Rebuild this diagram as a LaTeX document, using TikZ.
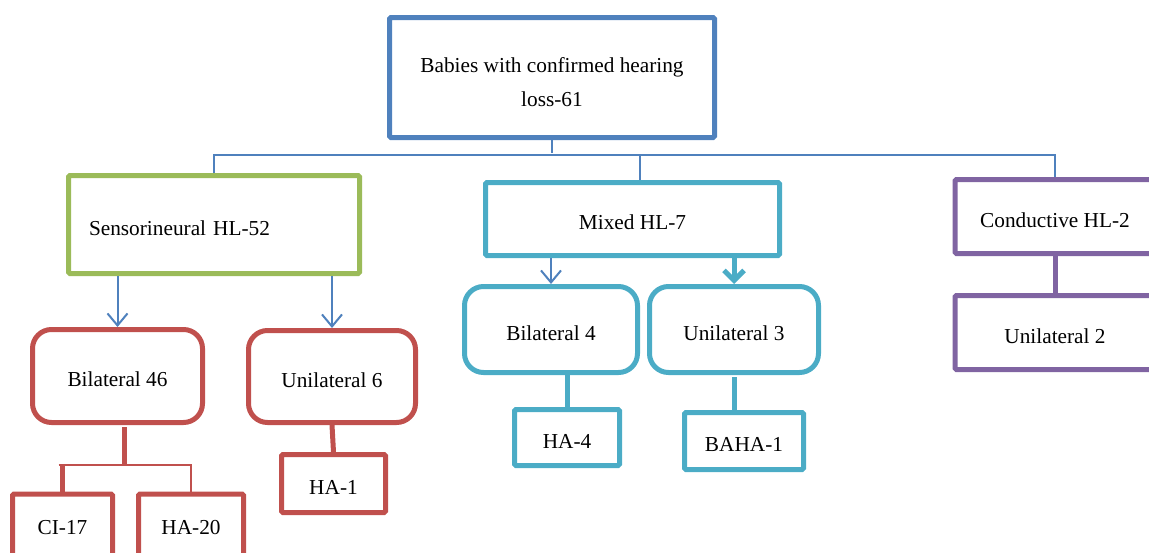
\documentclass[tikz,border=0pt]{standalone}
\usepackage{fontspec}
\setmainfont{Liberation Serif}
\usetikzlibrary{arrows.meta,positioning}
\definecolor{hlblue}{HTML}{4F81BD}
\definecolor{hlgreen}{HTML}{9BBB59}
\definecolor{hlred}{HTML}{C0504D}
\definecolor{hlcyan}{HTML}{4BACC6}
\definecolor{hlpurple}{HTML}{8064A2}
\tikzstyle{box}=[draw, line width=5pt, rounded corners=1.5pt, align=center, inner sep=0pt, text height=21pt, text depth=0pt]
\tikzstyle{roundbox}=[box, rounded corners=19pt]
\tikzstyle{bus}=[draw=hlblue, line width=2pt]
\tikzstyle{arrow}=[bus, -{Straight Barb[length=12pt,width=20pt]}]
\tikzstyle{stem}=[line width=5pt]

\begin{document}
\begin{tikzpicture}[x=1pt,y=-1pt,font=\fontsize{21.3}{34}\selectfont]
        \useasboundingbox (0,0) rectangle (1149,552);
        \node (root) [box, draw=hlblue, minimum width=325, minimum height=120, text height=57pt] at (552,77.5) {Babies with confirmed hearing\\loss-61};
        \node (sens) [box, draw=hlgreen, minimum width=291, minimum height=98, text width=250, inner xsep=20.5, align=left] at (214,224.5) {Sensorineural HL-52};
        \node (mixed) [box, draw=hlcyan, minimum width=294, minimum height=73] at (632.5,219) {Mixed HL-7};
        \node (cond) [box, draw=hlpurple, minimum width=200, minimum height=74] at (1055,216.5) {Conductive HL-2};

        \node (bil46) [roundbox, draw=hlred, minimum width=170, minimum height=93] at (117.5,376) {Bilateral 46};
        \node (uni6) [roundbox, draw=hlred, minimum width=167, minimum height=92] at (332,376.5) {Unilateral 6};
        \node (ci) [box, draw=hlred, minimum width=100, minimum height=70, text height=10pt] at (62.5,529) {CI-17};
        \node (ha20) [box, draw=hlred, minimum width=105, minimum height=70, text height=10pt] at (191,529) {HA-20};
        \node (ha1) [box, draw=hlred, minimum width=104, minimum height=58] at (333.5,483.5) {HA-1};

        \node (bil4) [roundbox, draw=hlcyan, minimum width=173, minimum height=86] at (551,329.5) {Bilateral 4};
        \node (uni3) [roundbox, draw=hlcyan, minimum width=169, minimum height=86] at (734,329.5) {Unilateral 3};
        \node (ha4) [box, draw=hlcyan, minimum width=105, minimum height=56] at (567,437.5) {HA-4};
        \node (baha) [box, draw=hlcyan, minimum width=119, minimum height=57] at (744,441) {BAHA-1};

        \node (uni2) [box, draw=hlpurple, minimum width=200, minimum height=74] at (1055,332.5) {Unilateral 2};

        % top level bus
        \coordinate (hub) at (552,155);
        \coordinate (split) at (124,465);
        \path[bus] (root.south) -- ([yshift=2]hub);
        \path[bus] (sens.north) |- (hub) -| (cond.north);
        \path[bus] ([xshift=7]mixed.north) -- ([xshift=7]mixed.north |- hub);

        % sensorineural
        \path[arrow] (sens.south -| bil46.north) -- (bil46.north);
        \path[arrow] (sens.south -| uni6.north) -- (uni6.north);
        \draw[stem, hlred] ([xshift=6.5,yshift=-2]bil46.south) -- ([xshift=6.5]bil46.south |- split);
        \draw[hlred, line width=2pt] ([xshift=-4]ci.north |- split) -- (ha20.north |- split) -- (ha20.north);
        \draw[stem, hlred] (ci.north |- split) -- (ci.north);
        \draw[stem, hlred] (uni6.south) -- (ha1.north);

        % mixed
        \path[arrow] (mixed.south -| bil4.north) -- (bil4.north);
        \draw[stem, hlcyan, -{Straight Barb[length=10pt,width=20pt]}] (mixed.south -| uni3.north) -- (uni3.north);
        \draw[stem, hlcyan] (ha4.north |- bil4.south) -- (ha4.north);
        \draw[stem, hlcyan] ([yshift=-2]uni3.south) -- (uni3.south |- baha.north);

        % conductive
        \draw[stem, hlpurple] (cond.south) -- (uni2.north);
    \end{tikzpicture}
\end{document}
